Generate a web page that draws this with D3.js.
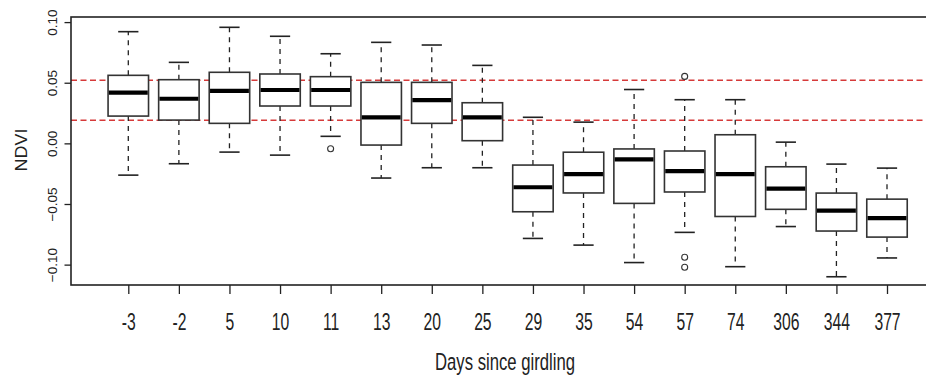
<!DOCTYPE html>
<html>
<head>
<meta charset="utf-8">
<script src="https://cdn.jsdelivr.net/npm/d3@7"></script>
<style>
  html, body { margin: 0; padding: 0; background: #fff; }
  svg { display: block; }
  text { font-family: "Liberation Sans", Arial, sans-serif; fill: #222; }
</style>
</head>
<body>
<svg id="chart" width="926" height="375"></svg>
<script>
// ---- data ----
const categories = ["-3","-2","5","10","11","13","20","25","29","35","54","57","74","306","344","377"];
const whiskerLow  = [-0.0262,-0.0168,-0.0072,-0.0097,0.0058,-0.0286,-0.0201,-0.0201,-0.0784,-0.0839,-0.0983,-0.0734,-0.1017,-0.0686,-0.1100,-0.0945];
const q1          = [0.0225,0.0192,0.0165,0.0308,0.0308,-0.0014,0.0165,0.0022,-0.0564,-0.0409,-0.0495,-0.0401,-0.0603,-0.0544,-0.0723,-0.0773];
const medians     = [0.0418,0.0368,0.0432,0.0440,0.0440,0.0215,0.0357,0.0215,-0.0362,-0.0254,-0.0132,-0.0229,-0.0254,-0.0374,-0.0554,-0.0617];
const q3          = [0.0561,0.0525,0.0586,0.0572,0.0550,0.0503,0.0503,0.0335,-0.0179,-0.0073,-0.0046,-0.0063,0.0071,-0.0193,-0.0410,-0.0460];
const whiskerHigh = [0.0921,0.0668,0.0957,0.0883,0.0739,0.0833,0.0811,0.0643,0.0215,0.0175,0.0444,0.0360,0.0360,0.0010,-0.0171,-0.0204];
const outlierCats   = ["11","57","57","57"];
const outlierValues = [-0.0045,0.0552,-0.0939,-0.1022];
const refLines = [0.052, 0.019];
const yTicks = [-0.10,-0.05,0.00,0.05,0.10];
const xTitle = "Days since girdling";
const yTitle = "NDVI";

// ---- layout ----
const plot = { left: 71, right: 945, top: 17, bottom: 285 };
const svg = d3.select("#chart");

const x = d3.scalePoint().domain(categories).range([128.3, 887]);
const y = d3.scaleLinear().domain([-0.1168, 0.1042]).range([plot.bottom, plot.top]);
const boxW = x.step() * 0.8;
const capW = boxW * 0.5;

const boxes = categories.map((c, i) => ({
  cat: c, lo: whiskerLow[i], q1: q1[i], med: medians[i], q3: q3[i], hi: whiskerHigh[i]
}));

// reference lines (drawn first, boxes over them)
svg.append("g").selectAll("line").data(refLines).join("line")
  .attr("x1", plot.left).attr("x2", plot.right)
  .attr("y1", d => y(d)).attr("y2", d => y(d))
  .attr("stroke", "#d63a3a").attr("stroke-width", 1.6)
  .attr("stroke-dasharray", "6,3.5");

const g = svg.append("g");
const bx = g.selectAll("g.box").data(boxes).join("g").attr("class", "box");

// whiskers
bx.append("line")
  .attr("x1", d => x(d.cat)).attr("x2", d => x(d.cat))
  .attr("y1", d => y(d.q3)).attr("y2", d => y(d.hi))
  .attr("stroke", "#222").attr("stroke-width", 1.3).attr("stroke-dasharray", "5,5");
bx.append("line")
  .attr("x1", d => x(d.cat)).attr("x2", d => x(d.cat))
  .attr("y1", d => y(d.q1)).attr("y2", d => y(d.lo))
  .attr("stroke", "#222").attr("stroke-width", 1.3).attr("stroke-dasharray", "5,5");
// caps
bx.append("line")
  .attr("x1", d => x(d.cat) - capW / 2).attr("x2", d => x(d.cat) + capW / 2)
  .attr("y1", d => y(d.hi)).attr("y2", d => y(d.hi))
  .attr("stroke", "#222").attr("stroke-width", 1.6);
bx.append("line")
  .attr("x1", d => x(d.cat) - capW / 2).attr("x2", d => x(d.cat) + capW / 2)
  .attr("y1", d => y(d.lo)).attr("y2", d => y(d.lo))
  .attr("stroke", "#222").attr("stroke-width", 1.6);
// boxes
bx.append("rect")
  .attr("x", d => x(d.cat) - boxW / 2).attr("width", boxW)
  .attr("y", d => y(d.q3)).attr("height", d => y(d.q1) - y(d.q3))
  .attr("fill", "#fff").attr("stroke", "#333").attr("stroke-width", 1.6);
// medians
bx.append("line")
  .attr("x1", d => x(d.cat) - boxW / 2 + 0.8).attr("x2", d => x(d.cat) + boxW / 2 - 0.8)
  .attr("y1", d => y(d.med)).attr("y2", d => y(d.med))
  .attr("stroke", "#000").attr("stroke-width", 4.2);

// outliers
g.selectAll("circle").data(outlierCats.map((c, i) => ({ cat: c, v: outlierValues[i] }))).join("circle")
  .attr("cx", d => x(d.cat)).attr("cy", d => y(d.v)).attr("r", 3)
  .attr("fill", "none").attr("stroke", "#333").attr("stroke-width", 1.1);

// plot frame
svg.append("rect")
  .attr("x", plot.left).attr("y", plot.top)
  .attr("width", plot.right - plot.left).attr("height", plot.bottom - plot.top)
  .attr("fill", "none").attr("stroke", "#222").attr("stroke-width", 1.6);

// y axis
const yAxis = svg.append("g").attr("transform", `translate(${plot.left},0)`)
  .call(d3.axisLeft(y).tickValues(yTicks).tickFormat(d3.format(".2f")).tickSize(6.5));
yAxis.select(".domain").remove();
yAxis.selectAll(".tick line").attr("stroke", "#222").attr("stroke-width", 1.3);
yAxis.selectAll(".tick text")
  .attr("x", null).attr("dy", null)
  .attr("transform", "translate(-14,0) rotate(-90)")
  .attr("text-anchor", "middle")
  .style("font-size", "13.5px").style("font-family", "Liberation Sans, Arial, sans-serif")
  .attr("fill", "#222");

// x axis
const xAxis = svg.append("g").attr("transform", `translate(0,${plot.bottom})`)
  .call(d3.axisBottom(x).tickSize(9));
xAxis.select(".domain").remove();
xAxis.selectAll(".tick line").attr("stroke", "#222").attr("stroke-width", 1.3);
xAxis.selectAll(".tick text")
  .attr("y", 30).attr("dy", null)
  .attr("transform", "scale(1,1.5)")
  .attr("text-anchor", "middle")
  .style("font-size", "15.7px").style("font-family", "Liberation Sans, Arial, sans-serif")
  .attr("fill", "#222");

// titles
svg.append("g").attr("transform", "translate(505,370)")
  .append("text").attr("transform", "scale(1,1.38)")
  .attr("text-anchor", "middle").style("font-size", "16.7px")
  .text(xTitle);

svg.append("g").attr("transform", "translate(26.5,150) rotate(-90)")
  .append("text").attr("transform", "scale(1.1,1)")
  .attr("text-anchor", "middle").style("font-size", "16.3px")
  .text(yTitle);
</script>
</body>
</html>
